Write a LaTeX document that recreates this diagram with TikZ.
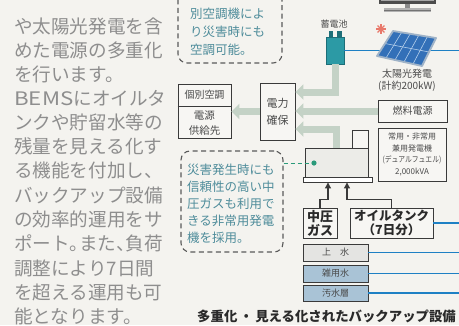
\documentclass[tikz,border=0pt]{standalone}
\usepackage{fontspec}
\usepackage{graphicx}
\setmainfont{Noto Sans CJK JP}
\newfontfamily\halfpunct[RawFeature=+halt]{Noto Sans CJK JP}
\newcommand{\hp}[1]{{\halfpunct #1}}
\usetikzlibrary{arrows.meta,calc}

\definecolor{paper}{HTML}{F4F3EF}
\definecolor{bodygray}{HTML}{8E8E8E}
\definecolor{notecol}{HTML}{4E8C9A}
\definecolor{dashcol}{HTML}{5A5A5A}
\definecolor{boxline}{HTML}{3A3A3A}
\definecolor{boxfill}{HTML}{F7F6F3}
\definecolor{labelcol}{HTML}{4A4A4A}
\definecolor{feedgreen}{HTML}{C4D2C6}
\definecolor{pipeblue}{HTML}{1E80C4}
\definecolor{batteal}{HTML}{2C9AA5}
\definecolor{batdark}{HTML}{1D6E78}
\definecolor{panelblue}{HTML}{3370B8}
\definecolor{panelframe}{HTML}{9FB3C8}
\definecolor{panelgrid}{HTML}{B5D0EC}
\definecolor{suncol}{HTML}{E8786A}
\definecolor{dotgreen}{HTML}{2A9A7A}
\definecolor{genfill}{HTML}{ECECE8}
\definecolor{waterlight}{HTML}{E4E4E2}
\definecolor{waterblue}{HTML}{A9C3D6}
\definecolor{capcol}{HTML}{2A2A2A}

\begin{document}
\begin{tikzpicture}[x=1pt,y=-1pt,
  body/.style={anchor=west,inner sep=0pt,text=bodygray,font=\fontsize{18.6}{18.6}\selectfont},
  note/.style={anchor=west,inner sep=0pt,text=notecol,font=\fontsize{12.5}{12.5}\selectfont},
  callout/.style={draw=dashcol,line width=1.1pt,dash pattern=on 5pt off 3.5pt,rounded corners=9pt,inner sep=0pt},
  frame/.style={draw=boxline,line width=0.9pt,fill=boxfill,inner sep=0.5pt,align=center,text=labelcol},
  lbl/.style={text=labelcol,inner sep=0pt,align=center},
  feed/.style={draw=feedgreen,line width=7pt,-{Triangle[width=15pt,length=8pt]}},
  pipe/.style={draw=pipeblue,line width=1.8pt},
  fuelarrow/.style={draw=boxline,line width=1.2pt,-{Triangle[width=6pt,length=6pt]}},
  pointer/.style={draw=dotgreen,line width=1pt,dash pattern=on 4pt off 3pt},
]
\useasboundingbox (0,0) rectangle (459,325);
\clip (0,0) rectangle (459,325);
\fill[paper] (0,0) rectangle (459,325);

% ---- body text column ----
\node[body] (t1)  at (14,26)    {や太陽光発電を含};
\node[body] (t2)  at (14,50.5)  {めた電源の多重化};
\node[body] (t3)  at (14,74.5)  {を行います。};
\node[body] (t4)  at (14,98)    {\scalebox{1.2}[1]{BEMS}にオイルタ};
\node[body] (t5)  at (14,122.3) {ンクや貯留水等の};
\node[body] (t6)  at (14,146.6) {残量を見える化す};
\node[body] (t7)  at (14,170.9) {る機能を付加し、};
\node[body] (t8)  at (14,195.2) {バックアップ設備};
\node[body] (t9)  at (14,219.5) {の効率的運用をサ};
\node[body] (t10) at (14,243.8) {ポート\hp{。}また\hp{、}負荷};
\node[body] (t11) at (14,268.1) {調整により7日間};
\node[body] (t12) at (14,292.4) {を超える運用も可};
\node[body] (t13) at (14,316.2) {能となります。};

% ---- callouts ----
\node[callout,minimum width=104pt,minimum height=83pt] (call1) at (230,21.5) {};
\node[note] (n1) at (190,14) {別空調機によ};
\node[note] (n2) at (190,32) {り災害時にも};
\node[note] (n3) at (190,50) {空調可能。};

\node[callout,minimum width=102pt,minimum height=101pt] (call2) at (232,201.5) {};
\node[note] (m1) at (187,170) {災害発生時にも};
\node[note] (m2) at (187,187) {信頼性の高い中};
\node[note] (m3) at (187,204) {圧ガスも利用で};
\node[note] (m4) at (187,221) {きる非常用発電};
\node[note] (m5) at (187,238) {機を採用。};

% ---- monitor ----
\fill[black!70] (379,-10) rectangle (436,4);
\draw[black!35,line width=0.6pt] (381,0.5) -- (434,0.5);
\fill[black!45] (405,4) rectangle (410,8);
\fill[black!30] (384,8) rectangle (431,12);
\draw[black!55,line width=0.6pt] (384,10) -- (431,10);

% ---- battery ----
\node[lbl,font=\fontsize{9}{9}\selectfont] (battlbl) at (334,24) {蓄電池};
\fill[batdark] (328.5,31) rectangle (333,37.5);
\fill[batdark] (337,31) rectangle (341.5,37.5);
\node[draw=batdark,fill=batteal,line width=0.8pt,minimum width=18pt,minimum height=27pt,inner sep=0pt] (batt) at (335,50.5) {};

% ---- pipes ----
\coordinate (edgeB) at (459,50.5);
\draw[pipe] (batt.east) -- (edgeB);

% ---- sun and solar panel ----
\foreach \a in {0,45,...,315} \draw[suncol,line width=1.1pt] (381,29) -- ++(\a:4.8);
\coordinate (pA) at (377,56);
\coordinate (pB) at (393,31);
\coordinate (pC) at (436,38);
\coordinate (pD) at (422,66);
\fill[panelblue] (pA) -- (pB) -- (pC) -- (pD) -- cycle;
\foreach \t in {0.2,0.4,0.6,0.8}
  \draw[panelgrid,line width=0.6pt] ($(pA)!\t!(pD)$) -- ($(pB)!\t!(pC)$);
\draw[panelgrid,line width=0.6pt] ($(pA)!0.5!(pB)$) -- ($(pD)!0.5!(pC)$);
\draw[panelframe,line width=1.8pt,line join=round] (pA) -- (pB) -- (pC) -- (pD) -- cycle;
\node[lbl,font=\fontsize{10}{12}\selectfont] (pvlbl) at (407,80) {太陽光発電\\(計約200kW)};

% ---- supply / power boxes ----
\node[frame,minimum width=53pt,minimum height=54pt] (supply) at (204.5,111) {};
\draw[boxline,line width=0.9pt] (supply.west |- 0,106) -- (supply.east |- 0,106);
\node[lbl,font=\fontsize{10}{10}\selectfont] (supplyA) at (204.5,95) {個別空調};
\node[lbl,font=\fontsize{10.5}{15.5}\selectfont] (supplyB) at (204.5,123) {電源\\供給先};

\node[frame,minimum width=35pt,minimum height=57pt,font=\fontsize{11}{17}\selectfont] (power) at (277.5,111.5) {電力\\確保};

% ---- fuel cell and generator label ----
\node[frame,minimum width=69pt,minimum height=22pt,font=\fontsize{10}{10}\selectfont] (fuel) at (412.5,111) {燃料電源};
\node[frame,minimum width=68pt,minimum height=53pt,font=\fontsize{8}{11.5}\selectfont] (genlbl) at (412,154.5)
  {常用・非常用\\兼用発電機\\\scalebox{0.85}[1]{(デュアルフュエル)}\\2,000kVA};

% ---- generator ----
\node[frame,fill=boxfill,minimum width=16pt,minimum height=18pt] (stack) at (360,139) {};
\node[frame,fill=genfill,minimum width=63pt,minimum height=29pt] (gen) at (336.5,162.5) {};
\node[frame,fill=white,minimum width=69pt,minimum height=5pt] (base) at (337.5,179.5) {};
\coordinate (gdot) at (314,163);
\draw[pointer] (call2.east |- gdot) -- (gdot);
\fill[dotgreen] (gdot) circle (2.6pt);

% ---- power feeds ----
\draw[feed] (batt.south) |- (power.east |- 0,92);
\draw[feed] (fuel.west) -- (power.east |- fuel.west);
\draw[feed] (gen.north) |- (power.east |- 0,129);
\draw[feed] (power.west) -- (supply.east |- power.west);

% ---- fuel supply ----
\node[frame,minimum width=34pt,minimum height=30pt,font=\bfseries\fontsize{13}{14}\selectfont,text=capcol] (gas) at (320,223) {中圧\\ガス};
\node[frame,minimum width=83pt,minimum height=30pt,font=\bfseries\fontsize{12.5}{14}\selectfont,text=capcol] (oil) at (391.5,223) {オイルタンク\\（7日分）};
\draw[fuelarrow] (gas.north) -- ++(0,-8) -| ([xshift=-9.5pt]base.south);
\draw[fuelarrow] (oil.north) -- ++(0,-8) -| ([xshift=9.5pt]base.south);
\coordinate (edgeO) at (459,223);
\draw[pipe] (oil.east) -- (edgeO);

% ---- water storage ----
\node[frame,fill=waterlight,minimum width=65pt,minimum height=17pt,font=\fontsize{9}{9}\selectfont] (w1) at (335.5,252.5) {上　水};
\node[frame,fill=waterblue,minimum width=65pt,minimum height=17pt,font=\fontsize{9}{9}\selectfont] (w2) at (335.5,273.5) {雑用水};
\node[frame,fill=waterblue,minimum width=65pt,minimum height=16pt,font=\fontsize{9}{9}\selectfont] (w3) at (335.5,293) {汚水層};
\coordinate (edgeW1) at (459,252.5);
\coordinate (edgeW2) at (459,273.5);
\coordinate (edgeW3) at (459,293);
\draw[pipe] (w1.east) -- (edgeW1);
\draw[pipe] (w2.east) -- (edgeW2);
\draw[pipe] (w3.east) -- (edgeW3);

% ---- caption ----
\node[anchor=west,inner sep=0pt,text=capcol,font=\bfseries\fontsize{13.4}{13.4}\selectfont] (cap) at (197,316.5)
  {多重化\,・\,見える化されたバックアップ設備};
\end{tikzpicture}
\end{document}
